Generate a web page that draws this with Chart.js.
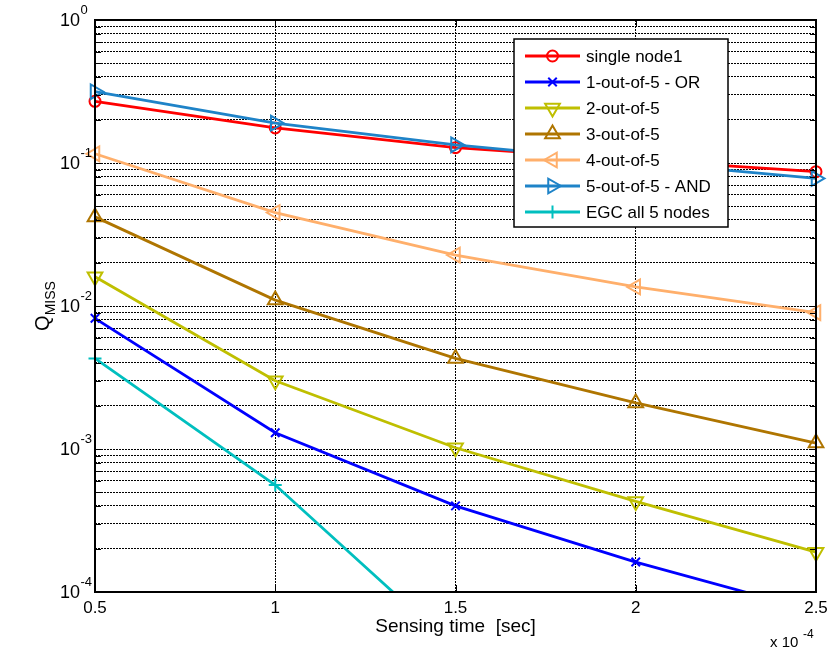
<!DOCTYPE html>
<html>
<head>
<meta charset="utf-8">
<script src="https://cdn.jsdelivr.net/npm/chart.js@4.4.1/dist/chart.umd.min.js"></script>
<style>
  html, body { margin: 0; padding: 0; background: #fff; }
  #wrap { width: 840px; height: 650px; }
</style>
</head>
<body>
<div id="wrap"><canvas id="missChart" width="840" height="650"></canvas></div>
<script>
// sensing time, in units of 10^-4 sec
const sensingTime = [0.5, 1, 1.5, 2, 2.5];

// Q_MISS (null = below the plotted range)
const singleNode1 = [0.27, 0.176, 0.128, 0.105, 0.087];
const oneOutOf5OR = [0.0082, 0.0013, 0.00040, 0.000162, 0.000073];
const twoOutOf5 = [0.016, 0.0030, 0.00102, 0.00043, 0.00019];
const threeOutOf5 = [0.042, 0.011, 0.0043, 0.0021, 0.0011];
const fourOutOf5 = [0.116, 0.045, 0.0227, 0.0136, 0.0090];
const fiveOutOf5AND = [0.315, 0.19, 0.134, 0.102, 0.078];
const egcAll5 = [0.0043, 0.00056, 0.00004, null, null];

const seriesNames = ['single node1', '1-out-of-5 - OR', '2-out-of-5', '3-out-of-5',
  '4-out-of-5', '5-out-of-5 - AND', 'EGC all 5 nodes'];
const seriesValues = [singleNode1, oneOutOf5OR, twoOutOf5, threeOutOf5,
  fourOutOf5, fiveOutOf5AND, egcAll5];
const seriesColors = ['#FF0000', '#0000FF', '#BFBF00', '#AF7500', '#FFAF6B', '#1E83C8', '#00BFBF'];
const seriesMarkers = [
  { style: 'circle', rotation: 0, radius: 5.5 },
  { style: 'crossRot', rotation: 0, radius: 6 },
  { style: 'triangle', rotation: 180, radius: 8.5 },
  { style: 'triangle', rotation: 0, radius: 8.5 },
  { style: 'triangle', rotation: 270, radius: 8.5 },
  { style: 'triangle', rotation: 90, radius: 8.5 },
  { style: 'cross', rotation: 0, radius: 6.5 },
];

const yDecades = [0, -1, -2, -3, -4];
const xTickLabels = ['0.5', '1', '1.5', '2', '2.5'];

const FONT = '"Liberation Sans", Arial, Helvetica, sans-serif';

const datasets = seriesNames.map((name, i) => ({
  label: name,
  data: sensingTime.map((t, j) => ({ x: t, y: seriesValues[i][j] })),
  borderColor: seriesColors[i],
  backgroundColor: 'rgba(0,0,0,0)',
  borderWidth: 2.8,
  pointStyle: seriesMarkers[i].style,
  pointRotation: seriesMarkers[i].rotation,
  pointRadius: seriesMarkers[i].radius,
  pointBorderWidth: 2,
  pointBorderColor: seriesColors[i],
  pointBackgroundColor: 'rgba(0,0,0,0)',
  tension: 0,
  spanGaps: false,
  order: -i,
  clip: { left: 12, right: 12, top: 12, bottom: 0 },
}));

function drawMarker(ctx, m, color, x, y) {
  ctx.save();
  ctx.strokeStyle = color;
  ctx.fillStyle = 'rgba(0,0,0,0)';
  ctx.lineWidth = 2;
  if (Chart.helpers && Chart.helpers.drawPoint) {
    Chart.helpers.drawPoint(ctx, { pointStyle: m.style, rotation: m.rotation, radius: m.radius, borderWidth: 2 }, x, y);
  } else {
    ctx.beginPath();
    ctx.arc(x, y, m.radius, 0, Math.PI * 2);
    ctx.stroke();
  }
  ctx.restore();
}

// frame, ticks, labels and legend drawn MATLAB style
const matlabAxes = {
  id: 'matlabAxes',
  afterDraw(chart) {
    const ctx = chart.ctx;
    const area = chart.chartArea;
    const xs = chart.scales.x;
    const ys = chart.scales.y;
    ctx.save();

    // inward tick marks
    ctx.strokeStyle = '#000';
    ctx.lineWidth = 1;
    ys.ticks.forEach(t => {
      const y = Math.round(ys.getPixelForValue(t.value)) + 0.5;
      ctx.beginPath();
      ctx.moveTo(area.left, y); ctx.lineTo(area.left + 6, y);
      ctx.moveTo(area.right, y); ctx.lineTo(area.right - 6, y);
      ctx.stroke();
    });
    sensingTime.forEach(v => {
      const x = Math.round(xs.getPixelForValue(v)) + 0.5;
      ctx.beginPath();
      ctx.moveTo(x, area.bottom); ctx.lineTo(x, area.bottom - 7);
      ctx.moveTo(x, area.top); ctx.lineTo(x, area.top + 7);
      ctx.stroke();
    });

    // box
    ctx.lineWidth = 2;
    ctx.strokeRect(area.left, area.top, area.right - area.left, area.bottom - area.top);

    // y tick labels 10^e
    ctx.fillStyle = '#000';
    ctx.textBaseline = 'middle';
    yDecades.forEach(e => {
      const y = ys.getPixelForValue(Math.pow(10, e));
      ctx.font = '18px ' + FONT;
      ctx.textAlign = 'right';
      ctx.fillText('10', 80, y + 1);
      ctx.font = '13px ' + FONT;
      ctx.textAlign = 'left';
      ctx.fillText(String(e), 80.5, y - 10);
    });

    // x tick labels
    ctx.font = '17px ' + FONT;
    ctx.textAlign = 'center';
    sensingTime.forEach((v, i) => {
      ctx.fillText(xTickLabels[i], xs.getPixelForValue(v), 608);
    });

    // x multiplier
    ctx.textAlign = 'left';
    ctx.textBaseline = 'alphabetic';
    ctx.font = '15px ' + FONT;
    ctx.fillText('x 10', 770, 647);
    ctx.font = '12px ' + FONT;
    ctx.fillText('-4', 803, 638);

    // x title
    ctx.font = '19px ' + FONT;
    ctx.textAlign = 'center';
    ctx.textBaseline = 'middle';
    ctx.fillText('Sensing time  [sec]', (area.left + area.right) / 2, 627);

    // y title Q_MISS
    ctx.save();
    ctx.translate(43, (area.top + area.bottom) / 2);
    ctx.rotate(-Math.PI / 2);
    ctx.font = '20px ' + FONT;
    const qw = ctx.measureText('Q').width;
    ctx.font = '14px ' + FONT;
    const sw = ctx.measureText('MISS').width;
    const x0 = -(qw + sw) / 2;
    ctx.textAlign = 'left';
    ctx.textBaseline = 'middle';
    ctx.font = '20px ' + FONT;
    ctx.fillText('Q', x0, 0);
    ctx.font = '14px ' + FONT;
    ctx.fillText('MISS', x0 + qw, 8);
    ctx.restore();

    // legend
    const lx = 514, ly = 39, lw = 214, lh = 188;
    ctx.fillStyle = '#fff';
    ctx.fillRect(lx, ly, lw, lh);
    ctx.strokeStyle = '#000';
    ctx.lineWidth = 1.5;
    ctx.strokeRect(lx, ly, lw, lh);
    ctx.font = '17px ' + FONT;
    ctx.textAlign = 'left';
    ctx.textBaseline = 'middle';
    seriesNames.forEach((name, i) => {
      const y = 56 + i * 26;
      ctx.strokeStyle = seriesColors[i];
      ctx.lineWidth = 2.8;
      ctx.beginPath();
      ctx.moveTo(525, y); ctx.lineTo(580, y);
      ctx.stroke();
      drawMarker(ctx, seriesMarkers[i], seriesColors[i], 552.5, y);
      ctx.fillStyle = '#000';
      ctx.fillText(name, 586, y + 1);
    });

    ctx.restore();
  }
};

new Chart(document.getElementById('missChart'), {
  type: 'line',
  data: { datasets },
  options: {
    responsive: false,
    animation: false,
    devicePixelRatio: 1,
    layout: { padding: { left: 95, top: 20, right: 24, bottom: 58 } },
    plugins: { legend: { display: false }, tooltip: { enabled: false } },
    scales: {
      x: {
        type: 'linear',
        min: 0.5,
        max: 2.5,
        afterBuildTicks: (scale) => { scale.ticks = sensingTime.map(v => ({ value: v })); },
        ticks: { display: false },
        grid: { color: '#000', lineWidth: 1, drawTicks: false },
        border: { display: false, dash: [2, 1] },
      },
      y: {
        type: 'logarithmic',
        min: 1e-4,
        max: 1,
        afterBuildTicks: (scale) => {
          const t = [];
          for (let e = -4; e < 0; e++) {
            for (let k = 1; k < 10; k++) t.push({ value: k * Math.pow(10, e) });
          }
          t.push({ value: 1 });
          scale.ticks = t;
        },
        ticks: { display: false },
        grid: { color: '#000', lineWidth: 1, drawTicks: false },
        border: { display: false, dash: [2, 1] },
      },
    },
  },
  plugins: [matlabAxes],
});
</script>
</body>
</html>
